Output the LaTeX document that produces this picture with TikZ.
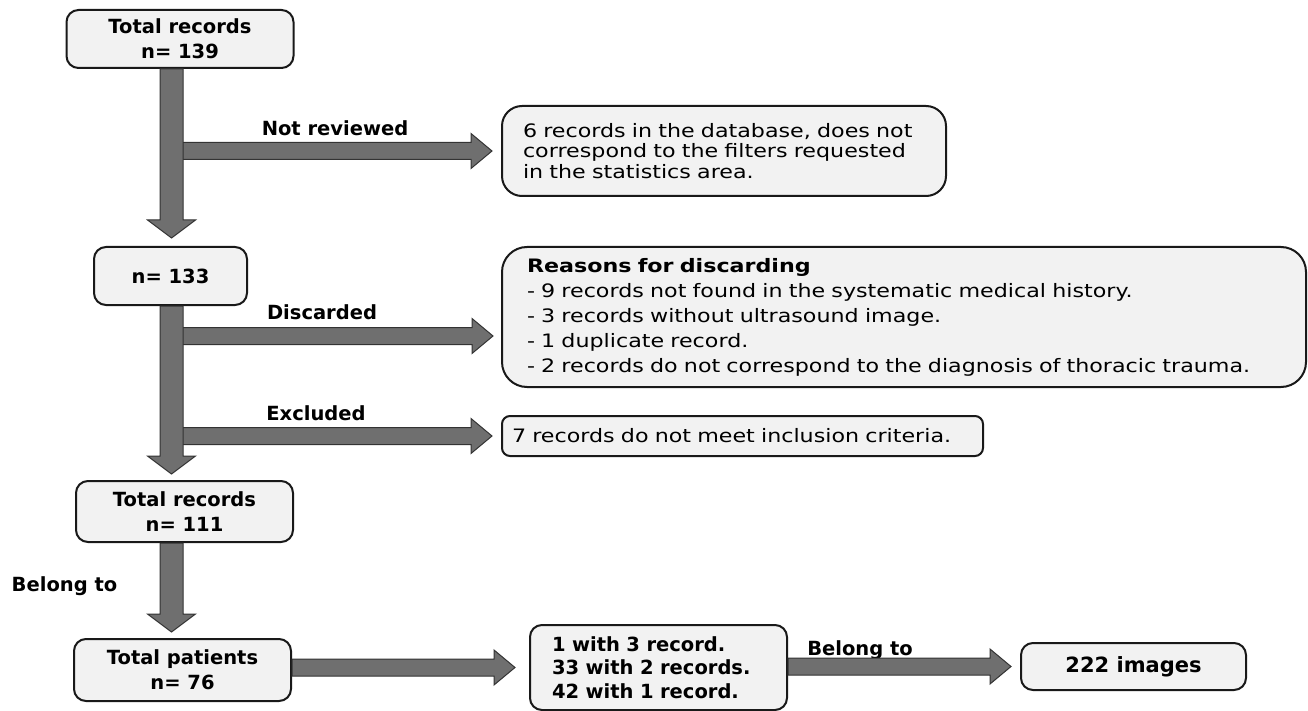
\documentclass[tikz,border=0pt]{standalone}
\usepackage{fontspec}
\setmainfont{DejaVu Sans}
\newfontfamily\widefont[FakeStretch=1.2]{DejaVu Sans}
\usepackage{xcolor}
\usepackage{tikz}
\usetikzlibrary{calc}

\definecolor{boxgray}{HTML}{F2F2F2}
\definecolor{arrgray}{HTML}{6F6F6F}
\newcommand{\bfn}{\fontsize{19.5}{25}\selectfont\bfseries}
\newcommand{\regn}{\widefont\fontsize{18.5}{20.5}\selectfont}

\newcommand{\downarr}[2]{%
\draw[blk] let \p1=(#1),\p2=(#2) in (\x2-11.5pt,\y1)--(\x2-11.5pt,\y2+18pt)--(\x2-24pt,\y2+18pt)
--(\x2,\y2)--(\x2+24pt,\y2+18pt)--(\x2+11.5pt,\y2+18pt)--(\x2+11.5pt,\y1)--cycle;}
\newcommand{\rightarr}[2]{%
\draw[blk] let \p1=(#1),\p2=(#2) in (\x1,\y2+8.5pt)--(\x2-21pt,\y2+8.5pt)--(\x2-21pt,\y2+17.5pt)
--(\x2,\y2)--(\x2-21pt,\y2-17.5pt)--(\x2-21pt,\y2-8.5pt)--(\x1,\y2-8.5pt)--cycle;}

\begin{document}
\begin{tikzpicture}[x=1pt,y=-1pt,
box/.style={draw=black!90,line width=2pt,fill=boxgray,rounded corners=12pt,inner sep=0pt,align=center,font=\bfn},
note/.style={draw=black!90,line width=2pt,fill=boxgray,rounded corners=20pt,inner ysep=0pt,align=left,font=\regn},
lbl/.style={font=\bfn},
blk/.style={draw=black!80,line width=1pt,fill=arrgray,line join=miter}]
\useasboundingbox (0,0) rectangle (1308,711);

\node[box,minimum width=227,minimum height=58] (rec139) at (180,39) {Total records\\n= 139};
\node[note,text width=402,inner xsep=21,minimum height=90] (notrev) at (724,151)
{6 records in the database, does not\\correspond to the filters requested\\in the statistics area.};
\node[box,minimum width=153,minimum height=58] (n133) at (170.5,276) {n= 133};
\node[note,text width=754,inner xsep=25,minimum height=140,rounded corners=25pt,
font=\widefont\fontsize{18.5}{25}\selectfont] (reasons) at (904,317)
{\textbf{Reasons for discarding}\\
- 9 records not found in the systematic medical history.\\
- 3 records without ultrasound image.\\
- 1 duplicate record.\\
- 2 records do not correspond to the diagnosis of thoracic trauma.};
\node[note,text width=461,inner xsep=10,minimum height=40,rounded corners=8pt] (excl) at (742.5,436)
{7 records do not meet inclusion criteria.};
\node[box,minimum width=217,minimum height=61] (rec111) at (184.5,511.5) {Total records\\n= 111};
\node[box,minimum width=217,minimum height=62] (pat) at (182.5,670) {Total patients\\n= 76};
\node[box,align=left,text width=213,inner xsep=22,minimum height=85,
font=\fontsize{19.5}{23.7}\selectfont\bfseries] (multi) at (658.5,667.5)
{1 with 3 record.\\33 with 2 records.\\42 with 1 record.};
\node[box,minimum width=225,minimum height=47,font=\fontsize{21}{25}\selectfont\bfseries] (img) at (1133.5,666.5) {222 images};

\node[lbl] (lnotrev) at (335,128) {Not reviewed};
\node[lbl] (ldisc) at (322,312) {Discarded};
\node[lbl] (lexcl) at (316,413) {Excluded};
\node[lbl] (lbelong) at (64.5,586) {Belong to};
\node[lbl] (lbelongb) at (860,650) {Belong to};

\coordinate (spine) at (171.5,0);
\coordinate (dtip) at (493,336);
\rightarr{spine}{$(notrev.west)+(-9,0)$}
\rightarr{spine}{dtip}
\rightarr{spine}{$(excl.west)+(-9,0)$}
\rightarr{pat.east}{$(multi.west)+(-14,0)$}
\rightarr{multi.east}{$(img.west)+(-9,0)$}

\downarr{rec139.south}{$(n133.north -| spine)+(0,-8)$}
\downarr{n133.south}{$(rec111.north -| spine)+(0,-6)$}
\downarr{rec111.south}{$(pat.north -| spine)+(0,-6)$}
\end{tikzpicture}
\end{document}
